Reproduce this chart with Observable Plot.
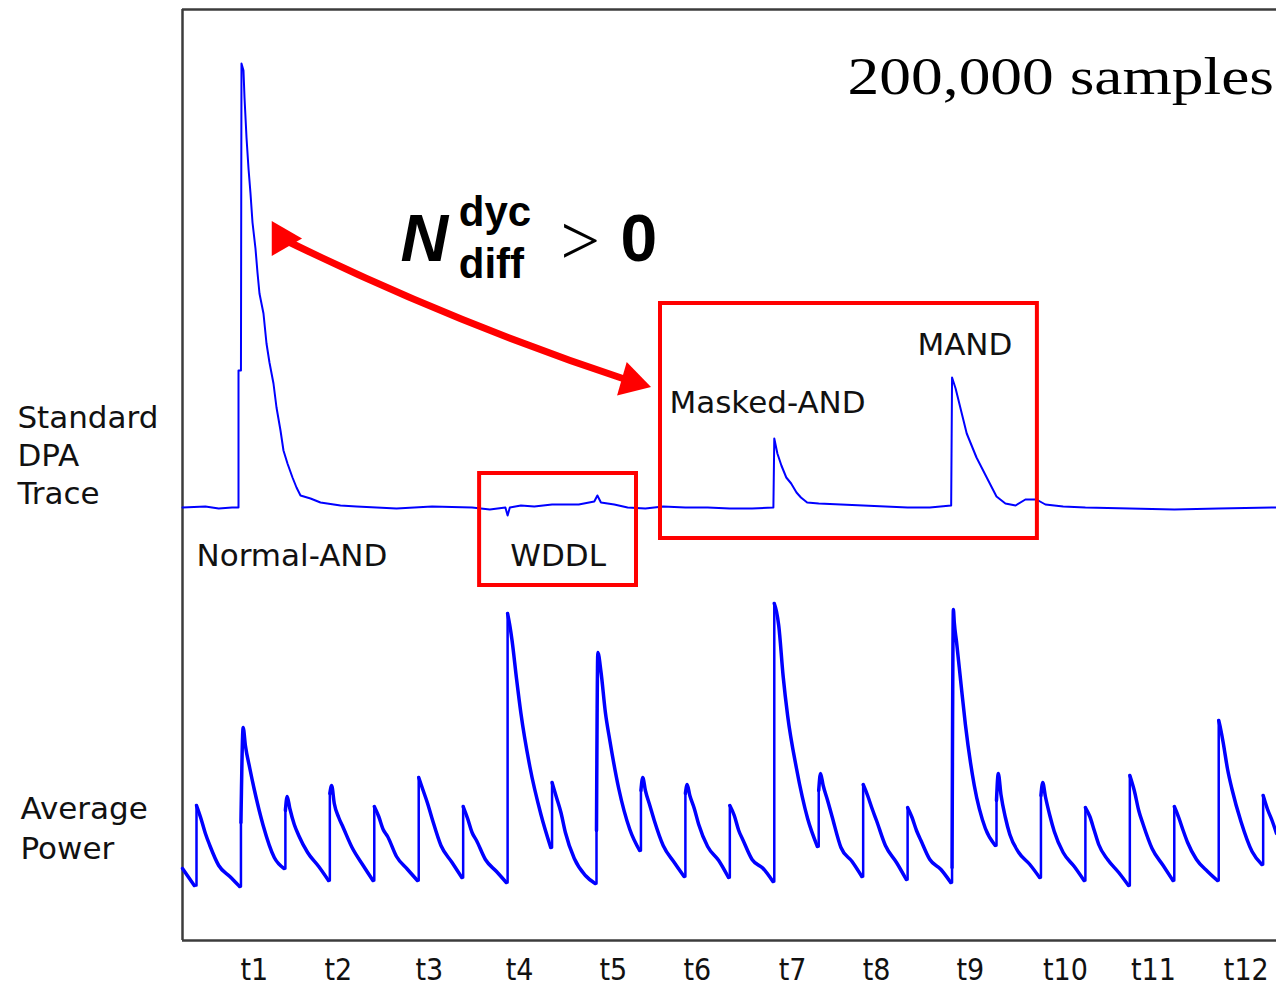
<!DOCTYPE html>
<html>
<head>
<meta charset="utf-8">
<script src="https://cdn.jsdelivr.net/npm/d3@7"></script>
<script src="https://cdn.jsdelivr.net/npm/@observablehq/plot@0.6"></script>
<style>
  html, body { margin: 0; padding: 0; background: #fff; }
  #chart svg { display: block; }
</style>
</head>
<body>
<div id="chart"></div>
<script>
// x: clock cycles, y: amplitude in arbitrary units (both traces share one axis)
const X_DOMAIN = [-0.315, 24.3];
const Y_DOMAIN = [0, 931];
const DPA_BASE = 433;     // resting level of the DPA trace
const POWER_BASE = 50;    // floor of the average power trace

// Standard DPA trace: [cycle, amplitude above its resting level]
const dpaTrace = [
  [-0.315, 0], [0.2, 1], [0.5, -1], [0.8, 0], [0.945, 0], [0.945, 137], [1.0, 137],
  [1.012, 444], [1.057, 437], [1.08, 410], [1.125, 370], [1.17, 339], [1.215, 314],
  [1.26, 285], [1.327, 259], [1.372, 235], [1.417, 214], [1.507, 194], [1.575, 164],
  [1.642, 145], [1.732, 124], [1.8, 100], [1.89, 77], [1.957, 57], [2.047, 44],
  [2.16, 30], [2.25, 20], [2.34, 12], [2.565, 9], [2.79, 5], [3.24, 2], [3.6, 1],
  [4.5, -1], [5.3, 1], [6.2, 0], [6.6, -2], [6.95, 0], [7.0, -8], [7.05, 0], [7.3, 2],
  [7.6, 1], [8.0, 3], [8.6, 3], [8.95, 6], [9.02, 12], [9.1, 5], [9.4, 3], [9.7, 0],
  [10.1, -1], [10.5, 1], [11.0, 0], [11.5, 0], [12.0, -1], [12.5, -1], [12.98, 0],
  [13.0, 69], [13.07, 54], [13.16, 42], [13.27, 30], [13.38, 24], [13.5, 15], [13.6, 10],
  [13.74, 5], [14.0, 4], [14.5, 3], [15.0, 2], [15.5, 1], [16.0, 0], [16.5, 0], [16.98, 2],
  [17.0, 130], [17.08, 119], [17.33, 74], [17.55, 50], [17.78, 30], [18.0, 11], [18.2, 4],
  [18.43, 2], [18.65, 8], [18.9, 8], [19.1, 3], [19.5, 1], [20, 0], [21, -1], [22, -2],
  [23, -1], [24.3, 0]
];

// Average power: tail carried in from the cycle before the window
const powerLeadIn = [[-0.315, 22], [-0.05, 5]];

// Average power, one entry per clock cycle: [phase within the cycle, amplitude]
const powerPulses = [
  [[0, 85], [0.1, 72], [0.2, 57], [0.3, 45], [0.5, 25], [0.75, 14], [0.97, 4]],
  [[0, 68], [0.05, 163], [0.1, 145], [0.2, 122], [0.3, 101], [0.5, 65], [0.75, 33], [0.97, 22]],
  [[0, 80], [0.04, 94], [0.1, 82], [0.2, 66], [0.3, 55], [0.5, 38], [0.75, 24], [0.97, 10]],
  [[0, 97], [0.04, 105], [0.1, 87], [0.2, 73], [0.3, 63], [0.5, 43], [0.75, 25], [0.97, 10]],
  [[0, 84], [0.1, 74], [0.2, 61], [0.3, 54], [0.5, 34], [0.75, 21], [0.97, 10]],
  [[0, 113], [0.1, 100], [0.2, 87], [0.3, 72], [0.5, 45], [0.75, 28], [0.97, 13]],
  [[0, 84], [0.1, 72], [0.2, 58], [0.3, 50], [0.5, 31], [0.75, 19], [0.97, 8]],
  [[0, 277], [0.05, 265], [0.1, 250], [0.2, 212], [0.3, 177], [0.5, 124], [0.75, 76], [0.97, 43]],
  [[0, 108], [0.1, 93], [0.2, 78], [0.3, 58], [0.5, 32], [0.75, 15], [0.97, 7]],
  [[0, 60], [0.03, 238], [0.1, 219], [0.2, 178], [0.3, 150], [0.5, 102], [0.75, 61], [0.97, 40]],
  [[0, 100], [0.04, 113], [0.1, 100], [0.2, 85], [0.3, 70], [0.5, 45], [0.75, 28], [0.97, 14]],
  [[0, 97], [0.04, 106], [0.1, 95], [0.2, 82], [0.3, 66], [0.5, 44], [0.75, 30], [0.97, 13]],
  [[0, 85], [0.1, 75], [0.2, 60], [0.3, 50], [0.5, 31], [0.75, 22], [0.97, 9]],
  [[0, 287], [0.05, 279], [0.1, 265], [0.2, 214], [0.3, 175], [0.5, 122], [0.75, 72], [0.97, 44]],
  [[0, 100], [0.04, 117], [0.1, 105], [0.2, 90], [0.3, 74], [0.5, 43], [0.75, 29], [0.97, 14]],
  [[0, 106], [0.1, 95], [0.2, 82], [0.3, 70], [0.5, 45], [0.75, 28], [0.97, 11]],
  [[0, 83], [0.1, 73], [0.2, 60], [0.3, 50], [0.5, 31], [0.75, 21], [0.97, 8]],
  [[0, 23], [0.03, 281], [0.05, 268], [0.1, 249], [0.2, 207], [0.3, 166], [0.5, 105], [0.75, 62], [0.97, 45]],
  [[0, 90], [0.04, 117], [0.1, 96], [0.2, 73], [0.3, 56], [0.5, 38], [0.75, 26], [0.97, 13]],
  [[0, 95], [0.04, 108], [0.1, 94], [0.2, 75], [0.3, 59], [0.5, 38], [0.75, 24], [0.97, 10]],
  [[0, 83], [0.1, 74], [0.2, 60], [0.3, 46], [0.5, 31], [0.75, 18], [0.97, 5]],
  [[0, 115], [0.1, 100], [0.2, 80], [0.3, 66], [0.5, 42], [0.75, 25], [0.97, 10]],
  [[0, 84], [0.1, 73], [0.2, 60], [0.3, 48], [0.5, 31], [0.75, 19], [0.97, 10]],
  [[0, 170], [0.05, 160], [0.1, 148], [0.2, 121], [0.3, 101], [0.5, 69], [0.75, 39], [0.97, 26]],
  [[0, 95], [0.1, 81], [0.2, 70], [0.3, 57]]
];

// Time markers along the bottom edge
const tickCycles = [1.30, 3.19, 5.24, 7.27, 9.38, 11.27, 13.41, 15.30, 17.41, 19.55, 21.53, 23.62];
const tickLabels = ["t1", "t2", "t3", "t4", "t5", "t6", "t7", "t8", "t9", "t10", "t11", "t12"];

// Circuit styles and the highlighted regions [cycle from, cycle to, low, high]
const styleNames = ["Normal-AND", "WDDL", "Masked-AND", "MAND"];
const highlightBoxes = [
  {name: "WDDL", x1: 6.37, x2: 9.90, y1: 355, y2: 467},
  {name: "Masked-AND / MAND", x1: 10.44, x2: 18.92, y1: 402, y2: 637}
];

// Build plotting tables: the decay of each cycle is its own series,
// joined to the next cycle by the rising edge
const dpaRows = dpaTrace.map(([t, v]) => ({t, v: DPA_BASE + v}));
const decayRows = [];
const edgeRows = [];
let prev = null;
powerLeadIn.forEach(([t, v]) => { prev = {t, v: POWER_BASE + v, z: -1}; decayRows.push(prev); });
powerPulses.forEach((pts, k) => {
  const first = {t: k + pts[0][0], v: POWER_BASE + pts[0][1]};
  edgeRows.push({t: prev.t, v: prev.v, z: k}, {t: k, v: prev.v, z: k}, {...first, z: k});
  pts.forEach(([p, v]) => { prev = {t: k + p, v: POWER_BASE + v, z: k}; decayRows.push(prev); });
});

const BLUE = "#0000ff";
const RED = "#ff0000";
const LABEL_FONT = "'DejaVu Sans', 'Noto Sans', sans-serif";
const BOLD_FONT = "'Liberation Sans', Arial, sans-serif";
const SAMPLES_TEXT = "200,000 samples";

const label = (str, x, y, extra = {}) =>
  Plot.text([str], {x, y, textAnchor: "start", lineAnchor: "bottom",
    fontFamily: LABEL_FONT, fontSize: 31, fill: "#111", ...extra});

const arrowHeads = [
  {t: 1.92, v: 702, angle: -30},
  {t: 9.79, v: 559, angle: 106}
];

const chart = Plot.plot({
  width: 1276,
  height: 986,
  marginLeft: 182,
  marginRight: 0,
  marginTop: 9,
  marginBottom: 46,
  x: {domain: X_DOMAIN},
  y: {domain: Y_DOMAIN, axis: null},
  style: {background: "#fff"},
  marks: [
    // frame
    Plot.ruleY([Y_DOMAIN[0], Y_DOMAIN[1]], {stroke: "#3c3c3c", strokeWidth: 2.5}),
    Plot.ruleX([X_DOMAIN[0]], {stroke: "#3c3c3c", strokeWidth: 2.5}),
    Plot.axisX({
      ticks: tickCycles,
      tickFormat: (d) => tickLabels[tickCycles.indexOf(d)],
      tickSize: 0,
      tickPadding: 18,
      fontSize: 30,
      fontFamily: "'Liberation Sans Narrow', 'DejaVu Sans Condensed', sans-serif",
      fill: "#111",
      label: null
    }),
    // traces
    Plot.line(dpaRows, {x: "t", y: "v", stroke: BLUE, strokeWidth: 2}),
    Plot.line(decayRows, {x: "t", y: "v", z: "z", stroke: BLUE, strokeWidth: 3.5,
      curve: "monotone-x"}),
    Plot.line(edgeRows, {x: "t", y: "v", z: "z", stroke: BLUE, strokeWidth: 2.5}),
    // highlighted regions
    Plot.rect(highlightBoxes, {x1: "x1", x2: "x2", y1: "y1", y2: "y2",
      fill: "none", stroke: RED, strokeWidth: 4}),
    // double-headed arrow linking the two leaking designs
    Plot.arrow([0], {x1: 1.92, y1: 702, x2: 9.79, y2: 559, bend: -4,
      headLength: 0, stroke: RED, strokeWidth: 7}),
    Plot.dot(arrowHeads, {x: "t", y: "v", rotate: "angle", symbol: "triangle2",
      r: 16.7, fill: RED, stroke: "none"}),
    // N_diff^dyc > 0
    Plot.text(["N"], {x: 4.59, y: 680, textAnchor: "start", lineAnchor: "bottom",
      fontFamily: BOLD_FONT, fontSize: 66, fontWeight: "bold", fontStyle: "italic", fill: "#000"}),
    Plot.text(["dyc"], {x: 5.9, y: 715, textAnchor: "start", lineAnchor: "bottom",
      fontFamily: BOLD_FONT, fontSize: 42, fontWeight: "bold", fill: "#000"}),
    Plot.text(["diff"], {x: 5.9, y: 663, textAnchor: "start", lineAnchor: "bottom",
      fontFamily: BOLD_FONT, fontSize: 42, fontWeight: "bold", fill: "#000"}),
    Plot.text([">"], {x: 8.19, y: 677, textAnchor: "start", lineAnchor: "bottom",
      fontFamily: "'Liberation Serif', serif", fontSize: 70, fill: "#000"}),
    Plot.text(["0"], {x: 9.54, y: 680, textAnchor: "start", lineAnchor: "bottom",
      fontFamily: BOLD_FONT, fontSize: 66, fontWeight: "bold", fill: "#000"}),
    // sample count
    Plot.text([SAMPLES_TEXT], {x: 14.65, y: 847, textAnchor: "start", lineAnchor: "bottom",
      fontFamily: "'Liberation Serif', 'Times New Roman', serif", fontSize: 52, fill: "#000"}),
    // row and style labels
    label("Standard\nDPA\nTrace", -4.03, 437, {lineHeight: 1.21}),
    label("Average\nPower", -3.96, 82, {lineHeight: 1.29}),
    label(styleNames[0], 0.0, 375),
    label(styleNames[1], 7.06, 375),
    label(styleNames[2], 10.64, 528),
    label(styleNames[3], 16.22, 586)
  ]
});

document.getElementById("chart").appendChild(chart);

// the sample-count caption is set in a wide serif face
d3.select(chart).selectAll("text")
  .filter(function () { return this.textContent === SAMPLES_TEXT; })
  .each(function () {
    const w = this.getComputedTextLength();
    d3.select(this).attr("textLength", w * 1.22).attr("lengthAdjust", "spacingAndGlyphs");
  });
</script>
</body>
</html>
